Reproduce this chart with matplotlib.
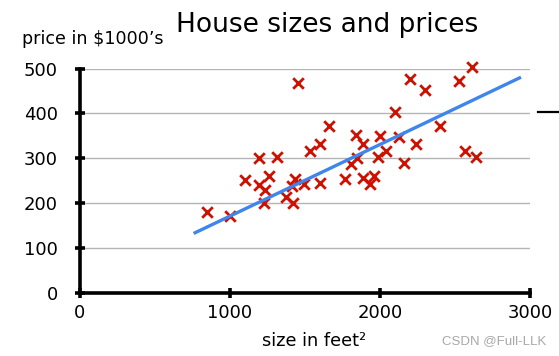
import matplotlib
matplotlib.use("Agg")
import matplotlib.pyplot as plt
from matplotlib.lines import Line2D

# house sizes (feet^2) and prices ($1000's)
size_ft2 = [852, 999, 1099, 1197, 1317, 1197, 1261, 1237, 1230, 1377,
            1425, 1437, 1412, 1492, 1532, 1599, 1661, 1603, 1452, 1765,
            1841, 1890, 1808, 1848, 1885, 1937, 1959, 1999, 2103, 2130,
            2043, 1988, 2239, 2161, 2201, 2301, 2401, 2528, 2612, 2568,
            2639]
price_k = [180, 171, 251, 301, 302, 240, 261, 229, 199, 214,
           199, 253, 238, 242, 316, 331, 371, 244, 467, 253,
           351, 331, 286, 301, 256, 242, 260, 349, 402, 346,
           316, 302, 331, 288, 477, 451, 371, 471, 503, 316,
           302]

# fitted line  price = w * size + b
w_fit = 0.16
b_fit = 10.2
fit_range = [760, 2940]

x_ticks = [0, 1000, 2000, 3000]
y_ticks = [0, 100, 200, 300, 400, 500]

W, H = 559, 356
fig = plt.figure(figsize=(W / 100, H / 100), dpi=100)
ax = fig.add_axes([79.5 / W, 1 - 292.5 / H, 450.5 / W, 224 / H])

for yv in y_ticks[1:]:
    ax.axhline(yv, color="#b4b4b4", lw=1.0, zorder=1)

ax.scatter(size_ft2, price_k, marker="x", s=58, c="#cc1100", linewidths=2.0,
           zorder=3, clip_on=False)
fit_y = [w_fit * xv + b_fit for xv in fit_range]
ax.plot(fit_range, fit_y, color="#3f86ec", lw=2.4, solid_capstyle="butt", zorder=4)

ax.set_xlim(0, 3000)
ax.set_ylim(0, 500)
ax.set_xticks(x_ticks)
ax.set_yticks(y_ticks)
for side in ["top", "right"]:
    ax.spines[side].set_visible(False)
for side in ["left", "bottom"]:
    ax.spines[side].set_linewidth(2.6)
    ax.spines[side].set_capstyle("projecting")
ax.tick_params(direction="inout", length=7, width=2.6, labelsize=13, color="black")
ax.tick_params(axis="x", pad=5)
ax.tick_params(axis="y", pad=12)

fig.text(327 / W, 1 - 25 / H, "House sizes and prices", fontsize=19,
         ha="center", va="center")
fig.text(22 / W, 1 - 39.5 / H, "price in $1000\u2019s", fontsize=12.6, ha="left", va="center")
fig.text(314 / W, 1 - 341 / H, "size in feet\u00b2", fontsize=12.8, ha="center", va="center")
fig.text(494 / W, 1 - 341 / H, "CSDN @Full-LLK", fontsize=9.5, ha="center", va="center",
         color="#a8a8a8", family="Liberation Sans")
fig.add_artist(Line2D([538 / W, 1.0], [1 - 112.3 / H] * 2, color="black", lw=1.6))

fig.savefig("out.png", dpi=100)
